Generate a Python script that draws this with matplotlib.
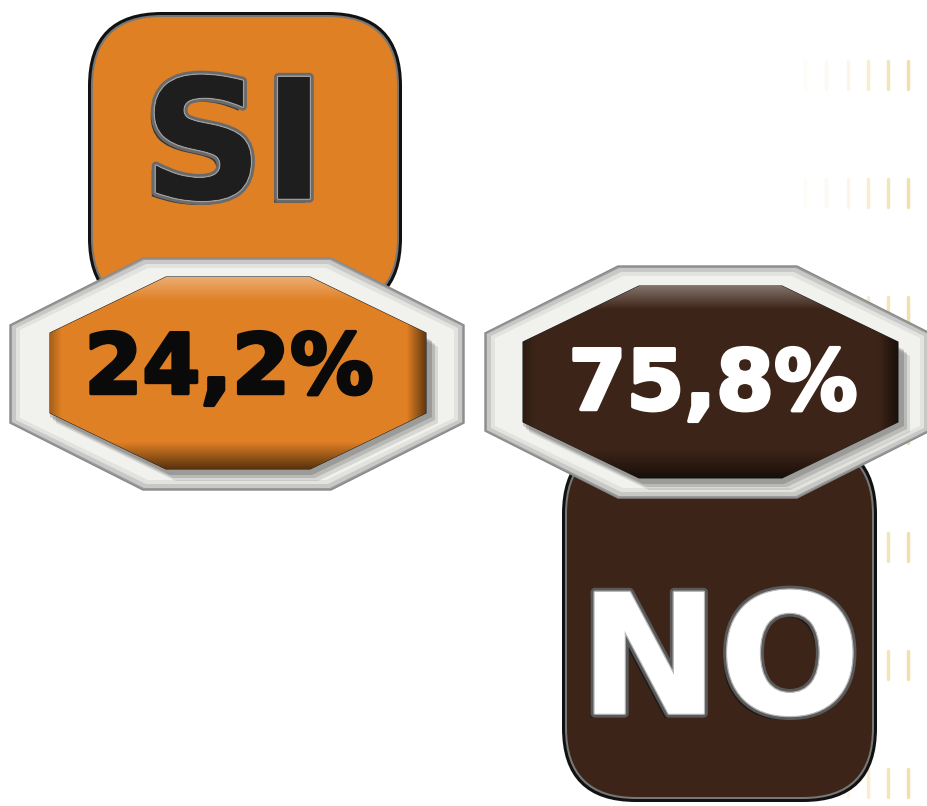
import numpy as np
import matplotlib
matplotlib.use("Agg")
import matplotlib.pyplot as plt
from matplotlib.patches import Polygon, FancyBboxPatch
import matplotlib.patheffects as pe

# ─── Data ───
labels = ["SI", "NO"]
values = [24.2, 75.8]
value_texts = ["24,2%", "75,8%"]
tab_colors = ["#E08024", "#3D2418"]
value_text_colors = ["#0a0a0a", "#ffffff"]
label_text_colors = ["#1e1e1e", "#ffffff"]

W, H = 928, 806


def octagon(x0, x1, y0, y1, dx, dy):
    """Octagon inside box (x0..x1, y0..y1) with cut corners dx, dy."""
    return [(x0 + dx, y0), (x1 - dx, y0), (x1, y0 + dy), (x1, y1 - dy),
            (x1 - dx, y1), (x0 + dx, y1), (x0, y1 - dy), (x0, y0 + dy)]


def gradient_fill(ax, poly, col, extent, zorder):
    """Fill polygon with a bevel-like gradient: light top, dark bottom/right."""
    x0, x1, y0, y1 = extent
    h, w = int(y1 - y0), int(x1 - x0)
    yy = np.linspace(0, 1, h)[:, None]
    xx = np.linspace(0, 1, w)[None, :]
    base = np.array(matplotlib.colors.to_rgb(col))
    light = np.clip(1 - yy / 0.12, 0, 1) * 0.35
    dark = np.clip((yy - 0.86) / 0.14, 0, 1) * 0.6
    dark = np.maximum(dark, np.clip((xx - 0.95) / 0.05, 0, 1) * 0.55)
    dark = np.maximum(dark, np.clip((0.03 - xx) / 0.03, 0, 1) * 0.25)
    img = base[None, None, :] * (1 - dark[..., None])
    img = img + (1 - img) * light[..., None]
    im = ax.imshow(np.clip(img, 0, 1), extent=(x0, x1, y1, y0),
                   interpolation="bilinear", zorder=zorder, aspect="auto")
    im.set_clip_path(poly)


fig = plt.figure(figsize=(W / 100, H / 100), dpi=100)
ax = fig.add_axes([0, 0, 1, 1])

# faint gold dashes on the right edge
for cx, a in [(868, 0.3), (888, 0.45), (908, 0.55), (848, 0.15),
              (826, 0.08), (805, 0.05)]:
    for cy in range(75, 806, 118):
        ax.plot([cx, cx], [cy - 14, cy + 14], color="#E6C766", lw=2.5,
                alpha=a, solid_capstyle="round", zorder=0)

# layout per category: tab box, outer octagon, inner octagon, text centers
layout = [
    dict(tab=(88, 12, 314, 300), outer=(10, 464, 258, 490),
         inner=(50, 426, 277, 469), label_xy=(234, 152), value_xy=(229, 370)),
    dict(tab=(562, 440, 315, 362), outer=(485, 930, 266, 498),
         inner=(523, 898, 286, 478), label_xy=(720, 667), value_xy=(713, 386)),
]

for i, lab in enumerate(labels):
    L = layout[i]
    col = tab_colors[i]
    tx, ty, tw, th = L["tab"]

    # tab with rounded corners
    ax.add_patch(FancyBboxPatch((tx, ty), tw, th,
                                boxstyle="round,pad=0,rounding_size=74",
                                fc="#111111", ec="none", zorder=1))
    ax.add_patch(FancyBboxPatch((tx + 3, ty + 3), tw - 6, th - 6,
                                boxstyle="round,pad=0,rounding_size=71",
                                fc="#777777", ec="none", zorder=1))
    ax.add_patch(FancyBboxPatch((tx + 5, ty + 5), tw - 10, th - 10,
                                boxstyle="round,pad=0,rounding_size=69",
                                fc=col, ec="none", zorder=1))

    # label text with bevel effect
    lx, ly = L["label_xy"]
    if i == 0:
        effects = [pe.withSimplePatchShadow(offset=(-3, -3), shadow_rgbFace="#3a3a3a", alpha=1),
                   pe.withStroke(linewidth=6, foreground="#6a6a6a"),
                   pe.withStroke(linewidth=2, foreground="#a0a0a0"),
                   pe.Normal()]
    else:
        effects = [pe.withSimplePatchShadow(offset=(-3, -3), shadow_rgbFace="#1a1a1a", alpha=1),
                   pe.withStroke(linewidth=6, foreground="#5a5a5a"),
                   pe.withStroke(linewidth=2, foreground="#b8b8b8"),
                   pe.Normal()]
    ax.text(lx, ly, lab, ha="center", va="center", fontsize=120,
            fontweight="bold", family="DejaVu Sans",
            color=label_text_colors[i], path_effects=effects, zorder=2)

    # outer silver octagon
    x0, x1, y0, y1 = L["outer"]
    ax.add_patch(Polygon(octagon(x0, x1, y0, y1, 133, 67), closed=True,
                         fc="#9a9a9a", ec="#8a8a8a", lw=1, zorder=3))
    for k, c in enumerate(["#c8c8c6", "#e2e2df", "#f1f1ed"]):
        d = 2 + k * 4
        ax.add_patch(Polygon(octagon(x0 + d, x1 - d, y0 + d, y1 - d,
                                     133 - d * 0.5, 67 - d * 0.5),
                             closed=True, fc=c, ec="none", zorder=3))

    # inner colored octagon with soft shadow
    x0, x1, y0, y1 = L["inner"]
    for k, a in enumerate([0.15, 0.2, 0.25]):
        s = 12 - k * 3
        ax.add_patch(Polygon(octagon(x0 + s - 6, x1 + s, y0 + s, y1 + s, 120, 58),
                             closed=True, fc="#444444", ec="none", alpha=a,
                             zorder=4))
    poly = Polygon(octagon(x0, x1, y0, y1, 116, 56), closed=True,
                   fc=col, ec="#222222", lw=0.8, zorder=4)
    ax.add_patch(poly)
    gradient_fill(ax, poly, col, (x0, x1, y0, y1), zorder=4.5)

    # value text
    vx, vy = L["value_xy"]
    c = value_text_colors[i]
    ax.text(vx, vy, value_texts[i], ha="center", va="center", fontsize=60,
            fontweight="bold", family="DejaVu Sans", color=c,
            path_effects=[pe.withStroke(linewidth=2.5, foreground=c)],
            zorder=5)

ax.set_xlim(0, W)
ax.set_ylim(H, 0)
ax.axis("off")

fig.savefig("out.png", dpi=100, facecolor="white")
